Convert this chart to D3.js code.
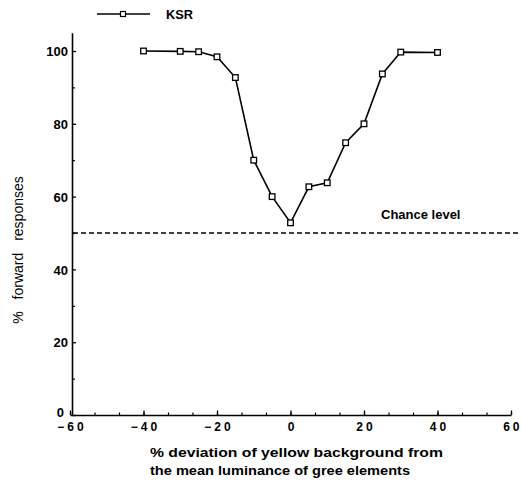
<!DOCTYPE html>
<html>
<head>
<meta charset="utf-8">
<script src="https://cdn.jsdelivr.net/npm/d3@7"></script>
<style>
  html, body { margin: 0; padding: 0; background: #fff; }
  svg { display: block; }
  text { font-family: "Liberation Sans", Arial, Helvetica, sans-serif; fill: #000; }
</style>
</head>
<body>
<svg id="chart" width="521" height="481"></svg>
<script>
// Forward responses of subject KSR against background luminance deviation
const deviation = [-40, -30, -25, -20, -15, -10, -5, 0, 5, 10, 15, 20, 25, 30, 40];
const forwardPct = [100, 99.9, 99.8, 98.4, 92.7, 70, 60, 52.8, 62.7, 63.8, 74.8, 80, 93.7, 99.7, 99.6];
const chanceLevel = 50;
const xTicks = [-60, -40, -20, 0, 20, 40, 60];
const xMinorTicks = d3.range(-60, 60.01, 20 / 3);
const yTicks = [0, 20, 40, 60, 80, 100];
const yMinorTicks = [10, 30, 50, 70, 90];
const seriesName = "KSR";

const svg = d3.select("#chart");

const x = d3.scaleLinear().domain([-60, 60]).range([70, 511]);
const y = d3.scaleLinear().domain([0, 105]).range([415, 32.8]);

// minor ticks (no labels)
svg.append("g")
  .attr("transform", "translate(0,415)")
  .call(d3.axisBottom(x).tickValues(xMinorTicks).tickSizeInner(-2.5).tickSizeOuter(0).tickFormat(""))
  .call(g => g.select(".domain").remove())
  .selectAll("line").attr("stroke", "#000").attr("stroke-width", 1.2);

svg.append("g")
  .attr("transform", "translate(72,0)")
  .call(d3.axisLeft(y).tickValues(yMinorTicks).tickSizeInner(-3).tickSizeOuter(0).tickFormat(""))
  .call(g => g.select(".domain").remove())
  .selectAll("line").attr("stroke", "#000").attr("stroke-width", 1.2);

// x axis
const xAxis = svg.append("g")
  .attr("transform", "translate(0,415)")
  .call(d3.axisBottom(x).tickValues(xTicks).tickSizeInner(-4.5).tickSizeOuter(0).tickPadding(8));
xAxis.select(".domain").attr("stroke", "#000").attr("stroke-width", 1.6);
xAxis.selectAll("line").attr("stroke", "#000").attr("stroke-width", 1.3);
xAxis.selectAll("text")
  .attr("font-size", 12)
  .attr("font-weight", "bold")
  .attr("dy", "0.68em")
  .style("letter-spacing", "3px")
  .attr("dx", 1.5);
// the last label is pulled in so it stays inside the frame
xAxis.selectAll(".tick").filter(d => d === 60).select("text")
  .attr("text-anchor", "end")
  .attr("dx", 11);

// y axis
const yAxis = svg.append("g")
  .attr("transform", "translate(72,0)")
  .call(d3.axisLeft(y).tickValues(yTicks).tickSizeInner(-4).tickSizeOuter(0).tickPadding(4));
yAxis.select(".domain").attr("stroke", "#000").attr("stroke-width", 1.6);
yAxis.selectAll("line").attr("stroke", "#000").attr("stroke-width", 1.3);
yAxis.selectAll("text")
  .attr("font-size", 13)
  .attr("font-weight", "bold")
  .attr("dy", "0.36em");
// the zero label sits a little left of and above the corner
yAxis.selectAll(".tick").filter(d => d === 0).select("text")
  .attr("dx", -4).attr("dy", "0.1em");

// chance level
svg.append("line")
  .attr("x1", x(-60) + 3).attr("x2", x(62.5))
  .attr("y1", y(chanceLevel)).attr("y2", y(chanceLevel))
  .attr("stroke", "#000").attr("stroke-width", 1.5)
  .attr("stroke-dasharray", "5,3");

svg.append("text")
  .attr("x", 381).attr("y", 218.5)
  .attr("font-size", 13).attr("font-weight", "bold")
  .text("Chance level");

// data series
const pts = deviation.map((d, i) => [d, forwardPct[i]]);
svg.append("path")
  .datum(pts)
  .attr("fill", "none")
  .attr("stroke", "#000")
  .attr("stroke-width", 1.6)
  .attr("d", d3.line().x(d => x(d[0])).y(d => y(d[1])));

svg.append("g").selectAll("rect")
  .data(pts)
  .join("rect")
  .attr("x", d => x(d[0]) - 2.8)
  .attr("y", d => y(d[1]) - 2.8)
  .attr("width", 5.6).attr("height", 5.6)
  .attr("fill", "#fff")
  .attr("stroke", "#000")
  .attr("stroke-width", 1.3);

// legend
const legend = svg.append("g");
legend.append("line")
  .attr("x1", 97).attr("x2", 150).attr("y1", 14).attr("y2", 14)
  .attr("stroke", "#000").attr("stroke-width", 1.3);
legend.append("rect")
  .attr("x", 120.5).attr("y", 11.5).attr("width", 5).attr("height", 5)
  .attr("fill", "#fff").attr("stroke", "#000").attr("stroke-width", 1.2);
legend.append("text")
  .attr("x", 166).attr("y", 19)
  .attr("font-size", 12).attr("font-weight", "bold")
  .attr("textLength", 27).attr("lengthAdjust", "spacingAndGlyphs")
  .text(seriesName);

// axis titles
svg.append("text")
  .attr("x", 150).attr("y", 457)
  .attr("font-size", 13).attr("font-weight", "bold")
  .attr("textLength", 293).attr("lengthAdjust", "spacingAndGlyphs")
  .text("% deviation of yellow background from");
svg.append("text")
  .attr("x", 150).attr("y", 475)
  .attr("font-size", 13).attr("font-weight", "bold")
  .attr("textLength", 260).attr("lengthAdjust", "spacingAndGlyphs")
  .text("the mean luminance of gree elements");

svg.append("text")
  .attr("transform", "translate(23,250) rotate(-90)")
  .attr("text-anchor", "middle")
  .attr("font-size", 14)
  .style("word-spacing", "8px")
  .text("% forward responses");
</script>
</body>
</html>
